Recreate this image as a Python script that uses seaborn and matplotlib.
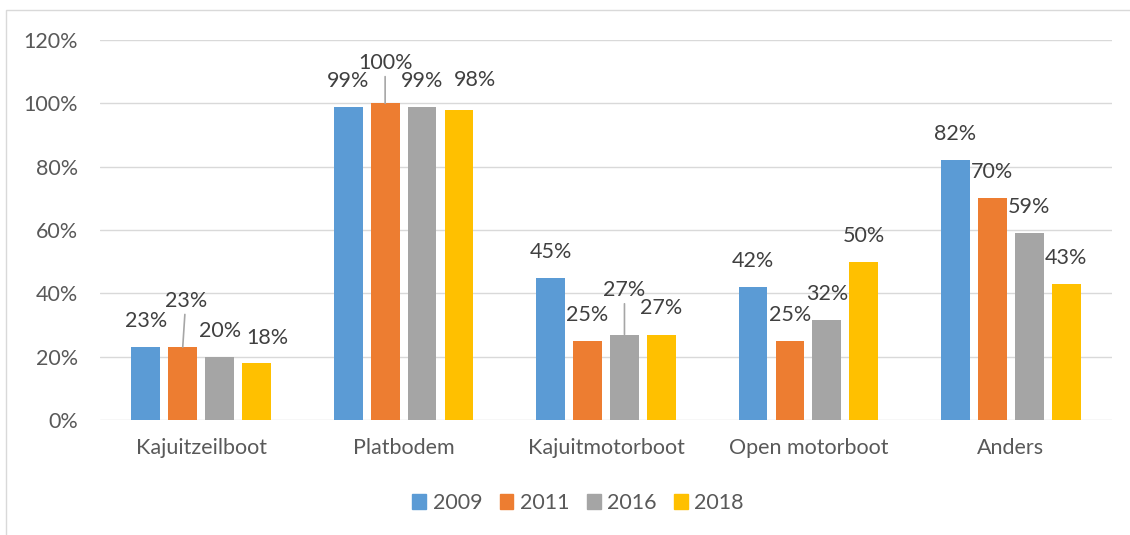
import pandas as pd
import numpy as np
import seaborn as sns
import matplotlib.pyplot as plt
from matplotlib.patches import Rectangle

# data
categories = ['Kajuitzeilboot', 'Platbodem', 'Kajuitmotorboot', 'Open motorboot', 'Anders']
years = ['2009', '2011', '2016', '2018']
v2009 = [0.23, 0.99, 0.45, 0.42, 0.82]
v2011 = [0.23, 1.00, 0.25, 0.25, 0.70]
v2016 = [0.20, 0.99, 0.27, 0.316, 0.59]
v2018 = [0.18, 0.98, 0.27, 0.50, 0.43]
colors = ['#5B9BD5', '#ED7D31', '#A5A5A5', '#FFC000']

df = pd.DataFrame({
    'categorie': categories * 4,
    'jaar': np.repeat(years, len(categories)),
    'waarde': v2009 + v2011 + v2016 + v2018,
})

sns.set_theme(style='white')
plt.rcParams['font.family'] = ['Lato', 'DejaVu Sans']
fs = 15.5

fig = plt.figure(figsize=(11.3, 5.35), dpi=100)
ax = fig.add_axes([100 / 1130, 115 / 535, 1012 / 1130, 380 / 535])

sns.barplot(data=df, x='categorie', y='waarde', hue='jaar', order=categories,
            hue_order=years, palette=colors, saturation=1, width=0.73, gap=0.22,
            linewidth=0, ax=ax, legend=True)

ax.set_ylim(0, 1.2)
ax.set_xlim(-0.5, len(categories) - 0.5)
ax.set_yticks(np.arange(0, 1.21, 0.2))
ax.set_yticklabels([f'{int(round(t * 100))}%' for t in np.arange(0, 1.21, 0.2)])
ax.yaxis.grid(True, color='#d9d9d9', linewidth=1)
ax.set_axisbelow(True)
for s in ax.spines.values():
    s.set_visible(False)
ax.tick_params(axis='both', length=0, labelsize=fs, colors='#595959')
ax.tick_params(axis='y', pad=16)
ax.tick_params(axis='x', pad=13)
ax.set_xlabel('')
ax.set_ylabel('')

# label offsets (pixels) for the labels Excel moved, default is (0, 26)
moved = {(1, 0): (3, 46), (3, 0): (11, 25), (1, 1): (0, 40),
         (3, 1): (16, 30), (2, 2): (0, 44)}
leaders = {(1, 0), (1, 1), (2, 2)}
for j, cont in enumerate(ax.containers):
    for i, bar in enumerate(cont):
        h = bar.get_height()
        dx, dy = moved.get((j, i), (0, 26))
        arrow = None
        if (j, i) in leaders:
            arrow = dict(arrowstyle='-', color='#a6a6a6', lw=1.2, shrinkA=0, shrinkB=0)
        ax.annotate(f'{h * 100:.0f}%', xy=(bar.get_x() + bar.get_width() / 2, h),
                    xytext=(dx, dy), textcoords='offset pixels', ha='center',
                    va='center', fontsize=fs, color='#404040', arrowprops=arrow)

ax.legend_.remove()
handles = [Rectangle((0, 0), 1, 1, color=c) for c in colors]
fig.legend(handles, years, loc='center', bbox_to_anchor=(578 / 1130, 1 - 503 / 535),
           ncol=4, frameon=False, fontsize=fs, handlelength=0.65, handleheight=0.65,
           handletextpad=0.3, columnspacing=0.8, labelcolor='#595959')

# chart border
fig.patches.append(Rectangle((6 / 1130, -0.1), 1.2, 1.1 - 10 / 535, transform=fig.transFigure,
                             fill=False, edgecolor='#d9d9d9', linewidth=1))

fig.savefig('out.png', dpi=100)
